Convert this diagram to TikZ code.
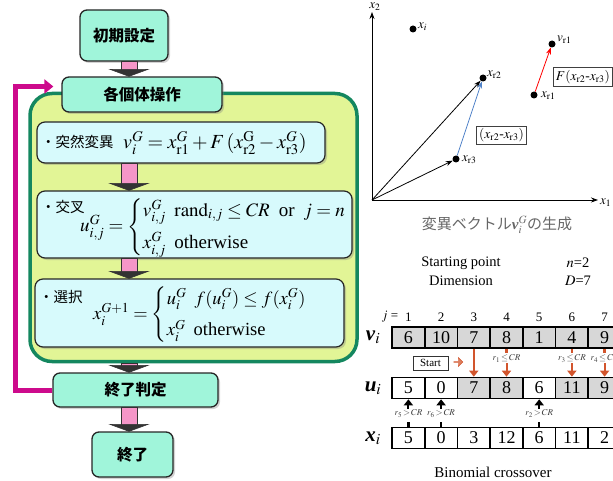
\documentclass[tikz,border=0pt]{standalone}
\usepackage{amsmath}
\usepackage{mathptmx}
\usepackage{fontspec}
\setmainfont{Liberation Serif}
\newfontfamily\jp{Noto Sans CJK JP}
\usetikzlibrary{shadows,arrows.meta,shapes.arrows,calc}
\definecolor{mint}{RGB}{160,245,218}
\definecolor{limeg}{RGB}{226,245,150}
\definecolor{dgreen}{RGB}{20,135,95}
\definecolor{lcyan}{RGB}{215,250,252}
\definecolor{pinkA}{RGB}{245,150,200}
\definecolor{magl}{RGB}{205,10,140}
\definecolor{rust}{RGB}{210,85,45}
\definecolor{cellgray}{RGB}{215,215,215}
\definecolor{bluev}{RGB}{80,130,200}
\newcommand\pinkarr[2]{%
  \path (#1.south -| ax) coordinate (pa) (#2.north -| ax) coordinate (pb);
  \draw[pshaft] ($(pa)+(-8,0)$) rectangle ($(pb)+(8,-6)$);
  \draw[phead] ($(pb)+(-19,-7)$) -- ($(pb)+(19,-7)$) -- (pb) -- cycle;}
\newcommand\bvec[1]{{\rmfamily\bfseries\itshape #1}}
\begin{document}
\begin{tikzpicture}[x=1pt,y=-1pt,
  flowbox/.style={draw=black!85, line width=1.3pt, rounded corners=7pt, fill=mint,
    drop shadow={shadow xshift=2pt,shadow yshift=-2pt,opacity=0.35},
    font=\jp\bfseries\fontsize{15.5}{18}\selectfont, inner sep=0pt},
  innerbox/.style={draw=black!85, line width=1.2pt, rounded corners=8pt, fill=lcyan,
    drop shadow={shadow xshift=2pt,shadow yshift=-2pt,opacity=0.35}, inner sep=0pt},
  container/.style={draw=dgreen, line width=3.5pt, rounded corners=22pt, fill=limeg, inner sep=0pt},
  jlabel/.style={font=\jp\fontsize{14.5}{17}\selectfont, anchor=west, inner sep=0pt},
  formula/.style={anchor=west, inner sep=0pt},
  pshaft/.style={fill=pinkA, draw=black!80, line width=0.8pt},
  phead/.style={fill=black!80, draw=black!80, line width=0.6pt},
  loopline/.style={draw=magl, line width=5pt, -{Triangle[length=9pt,width=14pt]}},
  pt/.style={circle, fill=black, inner sep=0pt, minimum size=7pt},
  ptlab/.style={anchor=west, inner sep=0pt, font=\fontsize{13}{15}\selectfont},
  vec/.style={-{Stealth[length=7pt,width=5pt]}, line width=0.8pt},
  lbox/.style={draw=black!75, line width=0.8pt, inner sep=2.5pt, font=\fontsize{13.5}{15}\selectfont, fill=white},
  cell/.style={draw=black, line width=1.6pt, minimum width=32.7pt, minimum height=21pt, inner sep=0pt, font=\fontsize{18}{20}\selectfont},
  rowlab/.style={font=\fontsize{21}{23}\selectfont, inner sep=0pt},
  jnum/.style={font=\fontsize{13}{15}\selectfont, inner sep=0pt},
  rlab/.style={font=\fontsize{9}{10}\selectfont, text=black!75, inner sep=0pt},
  rarr/.style={draw=rust, line width=2pt, -{Triangle[length=6pt,width=9pt]}},
  barr/.style={draw=black, line width=2pt, -{Triangle[length=6pt,width=9pt]}},
  rstub/.style={draw=rust, line width=2.5pt},
  bstub/.style={draw=black, line width=2.5pt},
  txt/.style={font=\fontsize{14.5}{17}\selectfont, inner sep=0pt}]
\useasboundingbox (0,0) rectangle (613,481);
\clip (0,0) rectangle (613,481);
\coordinate (ax) at (129,0);

% ---------- flowchart ----------
\node[container, minimum width=327pt, minimum height=268pt] (cont) at (193.5,227.5) {};
\node[innerbox, minimum width=288pt, minimum height=41pt] (mut) at (181,142.5) {};
\node[innerbox, minimum width=315pt, minimum height=67pt] (cro) at (194.5,224.5) {};
\node[innerbox, minimum width=309pt, minimum height=68pt] (sel) at (189.5,313) {};

\node[jlabel] (mutT) at (41,142) {・突然変異};
\node[formula, font=\fontsize{20}{24}\selectfont] (mutF) at (123,143) {$v_i^{G} = x_{\mathrm{r}1}^{G} + F\,(x_{\mathrm{r}2}^{\mathrm{G}} - x_{\mathrm{r}3}^{G})$};

\node[jlabel] (croT) at (41,207) {・交叉};
\node[formula, font=\fontsize{19}{23}\selectfont] (croF) at (80,227) {$u_{i,j}^{G} = \begin{cases} v_{i,j}^{G} \;\; \mathrm{rand}_{i,j} \le CR \;\text{ or }\; j = n\\[5pt] x_{i,j}^{G} \;\;\text{otherwise}\end{cases}$};

\node[jlabel] (selT) at (39,297) {・選択};
\node[formula, font=\fontsize{18.5}{22}\selectfont] (selF) at (93,315) {$x_i^{G+1} = \begin{cases} u_i^{G} \;\; f(u_i^{G}) \le f(x_i^{G})\\[5pt] x_i^{G} \;\;\text{otherwise}\end{cases}$};

\node[flowbox, minimum width=88pt, minimum height=51pt] (init) at (124,35.5) {初期設定};
\node[flowbox, minimum width=160pt, minimum height=35pt] (ops) at (142,94.5) {各個体操作};
\node[flowbox, minimum width=165pt, minimum height=34pt] (judge) at (135.5,390) {終了判定};
\node[flowbox, minimum width=81pt, minimum height=45pt] (fin) at (132.5,454.5) {終了};

\pinkarr{init}{ops}
\pinkarr{mut}{cro}
\pinkarr{cro}{sel}
\pinkarr{cont}{judge}
\pinkarr{judge}{fin}

\coordinate (loopend) at ($(ops.west)+(-8,-8)$);
\draw[loopline] (judge.west) -- ++(-37,0) |- (loopend);

% ---------- vector diagram ----------
\coordinate (O) at (372,200);
\coordinate (yend) at (372,12);
\coordinate (xend) at (598,200);
\draw[vec] (O) -- (yend);
\draw[vec] (O) -- (xend);
\node[ptlab, anchor=center] (x2lab) at (375,7) {$x_2$};
\node[ptlab] (x1lab) at (600,203) {$x_1$};

\node[pt] (xi) at (413,29) {};
\node[pt] (xr2) at (483,78) {};
\node[pt] (xr3) at (456,159) {};
\node[pt] (vr1) at (552,44) {};
\node[pt] (xr1) at (534,95) {};
\node[ptlab] (xil) at ($(xi)+(5,-2)$) {$x_i$};
\node[ptlab] (xr2l) at ($(xr2)+(4,-3)$) {$x_{\mathrm{r}2}$};
\node[ptlab] (xr3l) at ($(xr3)+(6,1)$) {$x_{\mathrm{r}3}$};
\node[ptlab] (vr1l) at ($(vr1)+(5,-4)$) {$v_{\mathrm{r}1}$};
\node[ptlab] (xr1l) at ($(xr1)+(7,1)$) {$x_{\mathrm{r}1}$};

\draw[vec] (O) -- (xr2);
\draw[vec] (O) -- (xr3);
\draw[vec, bluev] (xr3) -- (xr2);
\draw[vec, red] (xr1) -- (vr1);

\node[lbox, anchor=west] (Fbox) at (553,77) {$F(x_{\mathrm{r}2}$-$x_{\mathrm{r}3})$};
\node[lbox] (dbox) at (501.5,135.5) {$(x_{\mathrm{r}2}$-$x_{\mathrm{r}3})$};

\node[text=black!60, inner sep=0pt] (cap) at (497,225) {\jp\fontsize{15}{18}\selectfont 変異ベクトル\bvec{v}$^{G}_{i}$の生成};

% ---------- binomial crossover ----------
\node[txt] (sp) at (461,263) {Starting point};
\node[txt] (dim) at (461,281) {Dimension};
\node[txt] (nval) at (578,263) {$n$=2};
\node[txt] (dval) at (578,281) {$D$=7};

\node[jnum] (jeq) at (390,317) {$j$ =};
\foreach \v [count=\k] in {6,10,7,8,1,4,9} {
  \node[cell, fill=cellgray] (v\k) at ({408.4+32.7*(\k-1)},337.5) {\v};
  \node[jnum] (j\k) at ({408.4+32.7*(\k-1)},317) {\k};
}
\foreach \v/\f [count=\k] in {5/white,0/white,7/cellgray,8/cellgray,6/white,11/cellgray,9/cellgray} {
  \node[cell, fill=\f] (u\k) at ({408.4+32.7*(\k-1)},388) {\v};
}
\foreach \v [count=\k] in {5,0,3,12,6,11,2} {
  \node[cell, fill=white] (x\k) at ({408.4+32.7*(\k-1)},438) {\v};
}
\node[rowlab] (vlab) at (373,337) {\bvec{v}$_i$};
\node[rowlab] (ulab) at (373,388) {\bvec{u}$_i$};
\node[rowlab] (xlab) at (373,438) {\bvec{x}$_i$};

\node[draw=black!80, line width=0.8pt, minimum width=35pt, minimum height=14pt, inner sep=0pt, font=\fontsize{11}{12}\selectfont] (start) at (430.5,363) {Start};
\node[single arrow, fill=rust!75, draw=rust, line width=0.4pt, minimum height=9pt, minimum width=9pt, single arrow head extend=1.5pt, inner sep=0pt] (sarr) at (458,362) {};

\draw[rarr] (v3.south) -- (u3.north);
\foreach \k/\r in {4/1,6/3,7/4} {
  \draw[rstub] (v\k.south) -- ++(0,4);
  \node[rlab] (rl\k) at ($(v\k.south)+(0,9.5)$) {$r_{\r}\!\le\! CR$};
  \draw[rarr] ($(rl\k.south)+(0,1)$) -- (u\k.north);
}
\foreach \k/\r in {1/5,2/6,5/2} {
  \draw[bstub] (x\k.north) -- ++(0,-5);
  \node[rlab] (rb\k) at ($(x\k.north)+(0,-13)$) {$r_{\r}\!>\! CR$};
  \draw[barr] ($(rb\k.north)+(0,-1)$) -- (u\k.south);
}
\node[font=\fontsize{15}{17}\selectfont, inner sep=0pt] (binom) at (493,472) {Binomial crossover};
\end{tikzpicture}
\end{document}
